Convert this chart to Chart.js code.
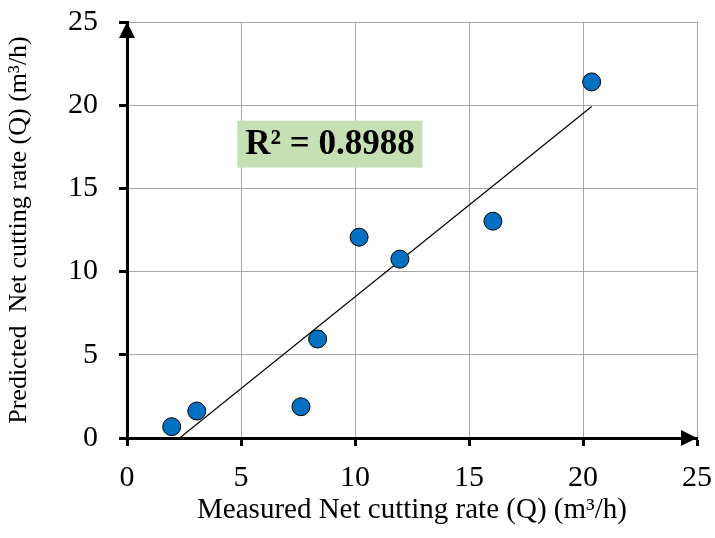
<!DOCTYPE html>
<html>
<head>
<meta charset="utf-8">
<script src="https://cdn.jsdelivr.net/npm/chart.js@4"></script>
<style>
  html, body { margin: 0; padding: 0; background: #fff; }
  #wrap { width: 715px; height: 538px; }
</style>
</head>
<body>
<div id="wrap"><canvas id="scatterChart" width="715" height="538"></canvas></div>
<script>
// dados
const measured = [1.96, 3.06, 7.63, 8.36, 10.18, 11.97, 16.05, 20.38];
const predicted = [0.68, 1.62, 1.88, 5.95, 12.07, 10.75, 13.03, 21.4];
const tickValues = [0, 5, 10, 15, 20, 25];
const r2Text = 'R² = 0.8988';

// linha de tendência (mínimos quadrados), do menor ao maior x
const n = measured.length;
const mx = measured.reduce((a, b) => a + b, 0) / n;
const my = predicted.reduce((a, b) => a + b, 0) / n;
let sxy = 0, sxx = 0;
for (let i = 0; i < n; i++) {
    sxy += (measured[i] - mx) * (predicted[i] - my);
    sxx += (measured[i] - mx) ** 2;
}
const slope = sxy / sxx;
const intercept = my - slope * mx;
const xMin = Math.min(...measured), xMax = Math.max(...measured);
const trend = [
    { x: xMin, y: intercept + slope * xMin },
    { x: xMax, y: intercept + slope * xMax }
];

const serif = "'Liberation Serif', 'Times New Roman', serif";

// setas nos eixos + caixa do R²
const extras = {
    id: 'extras',
    afterDraw(chart) {
        const { ctx, chartArea: a, scales } = chart;
        ctx.save();
        ctx.fillStyle = '#000';
        // seta do eixo Y
        ctx.beginPath();
        ctx.moveTo(a.left, a.top);
        ctx.lineTo(a.left - 8, a.top + 16);
        ctx.lineTo(a.left + 8, a.top + 16);
        ctx.closePath();
        ctx.fill();
        // seta do eixo X
        ctx.beginPath();
        ctx.moveTo(a.right, a.bottom);
        ctx.lineTo(a.right - 16, a.bottom - 8);
        ctx.lineTo(a.right - 16, a.bottom + 8);
        ctx.closePath();
        ctx.fill();

        // caixa do R²
        const cx = scales.x.getPixelForValue(8.9);
        const cy = scales.y.getPixelForValue(17.66);
        const w = 185, h = 47;
        ctx.fillStyle = '#c5e0b4';
        ctx.fillRect(cx - w / 2, cy - h / 2, w, h);
        ctx.fillStyle = '#000';
        ctx.font = 'bold 35px ' + serif;
        ctx.textAlign = 'center';
        ctx.textBaseline = 'middle';
        ctx.fillText(r2Text, cx, cy + 1);
        ctx.restore();
    }
};

const ctx = document.getElementById('scatterChart').getContext('2d');
const chart = new Chart(ctx, {
    type: 'scatter',
    data: {
        datasets: [{
            label: 'Dados',
            data: measured.map((x, i) => ({ x: x, y: predicted[i] })),
            backgroundColor: '#0070c0',
            borderColor: '#000',
            borderWidth: 1,
            pointRadius: 9,
            order: 1
        }, {
            label: 'Tendência',
            type: 'line',
            data: trend,
            borderColor: '#000',
            borderWidth: 1.2,
            pointRadius: 0,
            fill: false,
            order: 2
        }]
    },
    options: {
        responsive: false,
        animation: false,
        layout: { padding: { top: 22, right: 18, bottom: 6, left: 0 } },
        plugins: {
            legend: { display: false },
            tooltip: { enabled: false }
        },
        scales: {
            x: {
                type: 'linear',
                min: 0, max: 25,
                afterBuildTicks: s => { s.ticks = tickValues.map(v => ({ value: v })); },
                afterFit: s => { s.height = 94; s.paddingLeft = 0; s.paddingRight = 0; },
                grid: { color: '#a6a6a6', lineWidth: 1, tickColor: '#000', tickWidth: 3, tickLength: 8 },
                border: { color: '#000', width: 3 },
                ticks: { color: '#000', font: { family: serif, size: 30 }, padding: 14, maxRotation: 0 },
                title: {
                    display: true,
                    text: 'Measured Net cutting rate (Q) (m³/h)',
                    color: '#000',
                    font: { family: serif, size: 29 },
                    padding: { top: 0, bottom: 4 }
                }
            },
            y: {
                type: 'linear',
                min: 0, max: 25,
                afterBuildTicks: s => { s.ticks = tickValues.map(v => ({ value: v })); },
                afterFit: s => { s.width = 127; s.paddingTop = 0; s.paddingBottom = 0; },
                grid: { color: '#a6a6a6', lineWidth: 1, tickColor: '#000', tickWidth: 3, tickLength: 8 },
                border: { color: '#000', width: 3 },
                ticks: { color: '#000', font: { family: serif, size: 30 }, padding: 21 },
                title: {
                    display: true,
                    text: 'Predicted  Net cutting rate (Q) (m³/h)',
                    color: '#000',
                    font: { family: serif, size: 26 },
                    padding: { top: 4, bottom: 0 }
                }
            }
        }
    },
    plugins: [extras]
});
</script>
</body>
</html>
